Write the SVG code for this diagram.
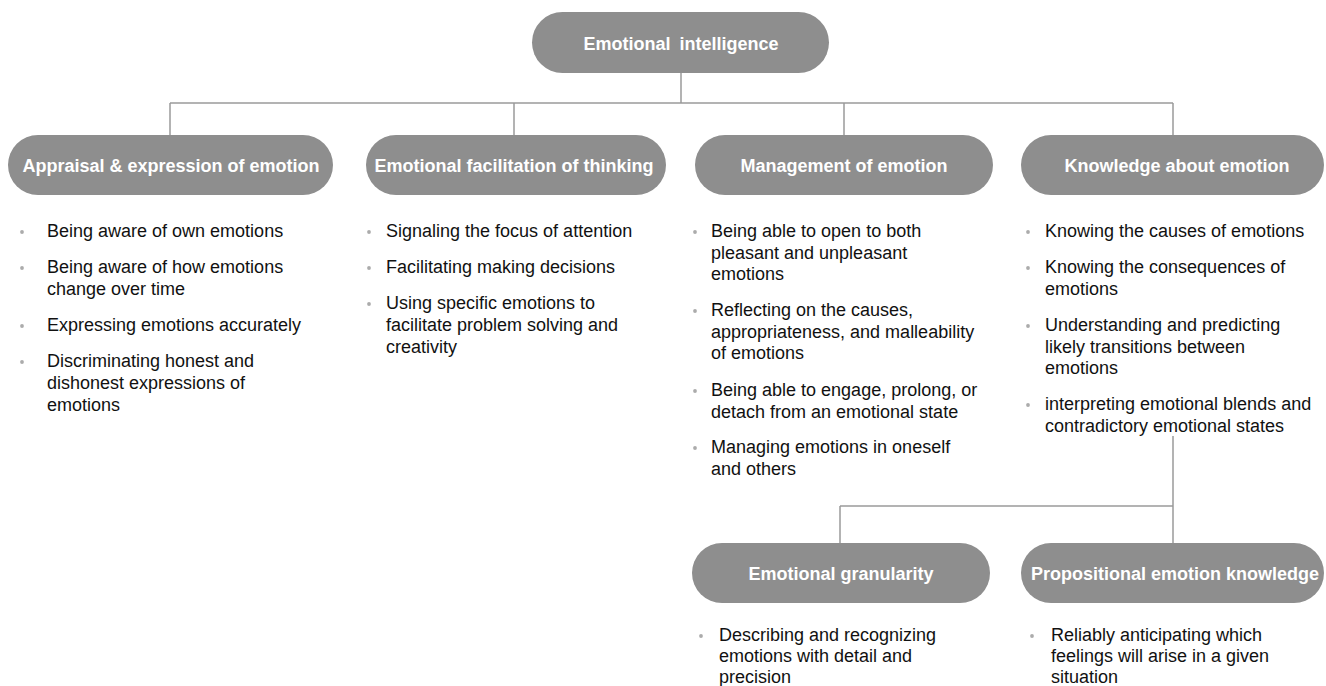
<svg xmlns="http://www.w3.org/2000/svg" width="1326" height="686" viewBox="0 0 1326 686">
<style>
.node rect{fill:#8e8e8e}
.node text{font-family:"Liberation Sans",Arial,sans-serif;font-size:18px;font-weight:bold;fill:#ffffff;text-anchor:middle}
.items text{font-family:"Liberation Sans",Arial,sans-serif;font-size:18px;fill:#111111}
.items circle{fill:#ababab}
#connectors path{fill:none;stroke:#9a9a9a;stroke-width:1.5}
</style>
<rect width="1326" height="686" fill="#ffffff"/>
<g id="connectors">
<path d="M681 73V103M170 103H1173M170 103V135M514 103V135M844 103V135M1173 103V135"/>
<path d="M1173 436V543M840 506H1173M840 506V543"/>
</g>
<g id="n-root" class="node"><rect x="532" y="12" width="297" height="61" rx="30.5"/><text x="681" y="49.5" word-spacing="4">Emotional intelligence</text></g>
<g id="n-appraisal" class="node"><rect x="8" y="135" width="325" height="60" rx="30"/><text x="171" y="171.5">Appraisal &amp; expression of emotion</text></g>
<g id="n-facilitation" class="node"><rect x="366" y="135" width="300" height="60" rx="30"/><text x="514" y="171.5">Emotional facilitation of thinking</text></g>
<g id="n-management" class="node"><rect x="695" y="135" width="298" height="60" rx="30"/><text x="844" y="171.5">Management of emotion</text></g>
<g id="n-knowledge" class="node"><rect x="1021" y="135" width="303" height="60" rx="30"/><text x="1177" y="171.5">Knowledge about emotion</text></g>
<g id="n-granularity" class="node"><rect x="692" y="543" width="298" height="60" rx="30"/><text x="841" y="579.5">Emotional granularity</text></g>
<g id="n-propositional" class="node"><rect x="1021" y="543" width="303" height="60" rx="30"/><text x="1175" y="579.5">Propositional emotion knowledge</text></g>
<g id="items-appraisal" class="items">
<circle cx="22" cy="232" r="1.9"/><text x="47" y="237">Being aware of own emotions</text>
<circle cx="22" cy="268" r="1.9"/><text x="47" y="273">Being aware of how emotions</text><text x="47" y="295">change over time</text>
<circle cx="22" cy="326" r="1.9"/><text x="47" y="331">Expressing emotions accurately</text>
<circle cx="22" cy="362" r="1.9"/><text x="47" y="367">Discriminating honest and</text><text x="47" y="389">dishonest expressions of</text><text x="47" y="411">emotions</text>
</g>
<g id="items-facilitation" class="items">
<circle cx="369" cy="232" r="1.9"/><text x="386" y="237">Signaling the focus of attention</text>
<circle cx="369" cy="268" r="1.9"/><text x="386" y="273">Facilitating making decisions</text>
<circle cx="369" cy="304" r="1.9"/><text x="386" y="309">Using specific emotions to</text><text x="386" y="331">facilitate problem solving and</text><text x="386" y="353">creativity</text>
</g>
<g id="items-management" class="items">
<circle cx="695" cy="232" r="1.9"/><text x="711" y="237">Being able to open to both</text><text x="711" y="258.5">pleasant and unpleasant</text><text x="711" y="280">emotions</text>
<circle cx="695" cy="311" r="1.9"/><text x="711" y="316">Reflecting on the causes,</text><text x="711" y="337.5">appropriateness, and malleability</text><text x="711" y="359">of emotions</text>
<circle cx="695" cy="391" r="1.9"/><text x="711" y="396">Being able to engage, prolong, or</text><text x="711" y="417.5">detach from an emotional state</text>
<circle cx="695" cy="448" r="1.9"/><text x="711" y="453">Managing emotions in oneself</text><text x="711" y="474.5">and others</text>
</g>
<g id="items-knowledge" class="items">
<circle cx="1028" cy="232" r="1.9"/><text x="1045" y="237">Knowing the causes of emotions</text>
<circle cx="1028" cy="268" r="1.9"/><text x="1045" y="273">Knowing the consequences of</text><text x="1045" y="295">emotions</text>
<circle cx="1028" cy="326" r="1.9"/><text x="1045" y="331">Understanding and predicting</text><text x="1045" y="352.5">likely transitions between</text><text x="1045" y="374">emotions</text>
<circle cx="1028" cy="405" r="1.9"/><text x="1045" y="410">interpreting emotional blends and</text><text x="1045" y="432">contradictory emotional states</text>
</g>
<g id="items-granularity" class="items">
<circle cx="701" cy="636" r="1.9"/><text x="719" y="641">Describing and recognizing</text><text x="719" y="662">emotions with detail and</text><text x="719" y="683">precision</text>
</g>
<g id="items-propositional" class="items">
<circle cx="1032" cy="636" r="1.9"/><text x="1051" y="641">Reliably anticipating which</text><text x="1051" y="662">feelings will arise in a given</text><text x="1051" y="683">situation</text>
</g>
</svg>
